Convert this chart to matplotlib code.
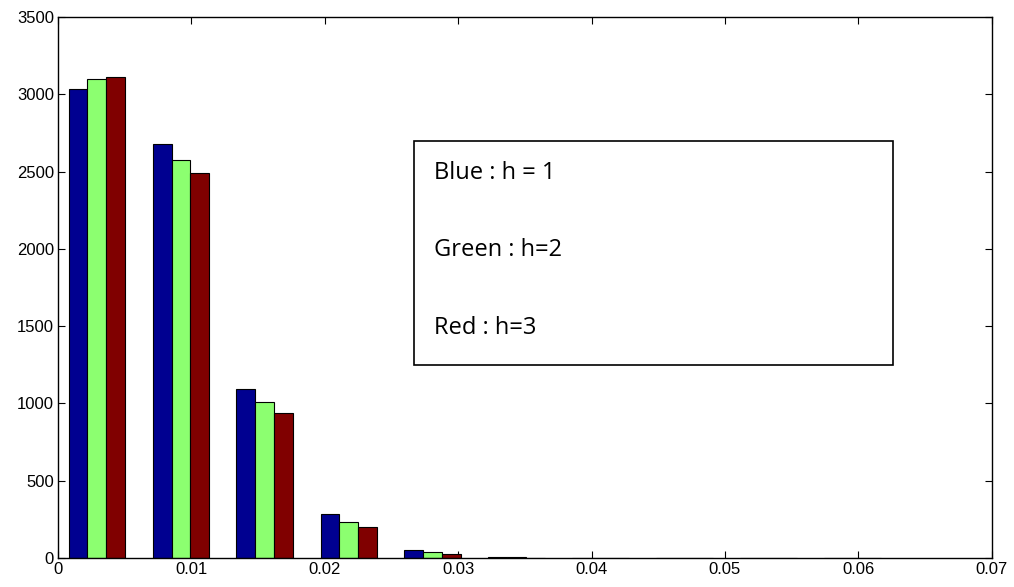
import matplotlib
matplotlib.use("Agg")
import matplotlib.pyplot as plt
import numpy as np

bin_centers = [0.00292, 0.00922, 0.01551, 0.02181, 0.02810,
               0.03440, 0.04070, 0.04699, 0.05329, 0.05958]
h1 = [3034, 2678, 1091, 285, 50, 5, 3, 0, 0, 3]
h2 = [3098, 2574, 1011, 235, 39, 5, 1, 0, 0, 0]
h3 = [3109, 2490, 940, 203, 24, 2, 0, 0, 0, 0]
colors = ["#000090", "#8cff70", "#800000"]
xticks = [0, 0.01, 0.02, 0.03, 0.04, 0.05, 0.06, 0.07]
yticks = [0, 500, 1000, 1500, 2000, 2500, 3000, 3500]

plt.rcParams["font.family"] = ["Liberation Sans", "DejaVu Sans"]

fig = plt.figure(figsize=(10.14, 5.87), dpi=100)
ax = fig.add_axes([0.0572, 0.0494, 0.9208, 0.9216])

x = np.array(bin_centers)
w = 0.00142
for k, (vals, c) in enumerate(zip([h1, h2, h3], colors)):
    ax.bar(x + (k - 1) * w, vals, width=w, color=c, edgecolor="black",
           linewidth=0.8, zorder=2)

ax.set_xlim(0, 0.07)
ax.set_ylim(0, 3500)
ax.set_xticks(xticks)
ax.set_xticklabels(["0", "0.01", "0.02", "0.03", "0.04", "0.05", "0.06", "0.07"])
ax.set_yticks(yticks)
ax.tick_params(direction="in", length=5, top=True, right=True, labelsize=12,
               width=0.8, pad=3)
for s in ax.spines.values():
    s.set_linewidth(1.0)

# annotation box
ax.add_patch(plt.Rectangle((0.381, 0.357), 0.513, 0.414, transform=ax.transAxes,
                           fill=False, edgecolor="black", linewidth=1.2, zorder=3))
for txt, yy in [("Blue : h = 1", 0.712), ("Green : h=2", 0.569), ("Red : h=3", 0.426)]:
    ax.text(0.4025, yy, txt, transform=ax.transAxes, fontsize=17,
            family=["Open Sans", "DejaVu Sans"], va="center", ha="left")

fig.savefig("out.png", dpi=100)
